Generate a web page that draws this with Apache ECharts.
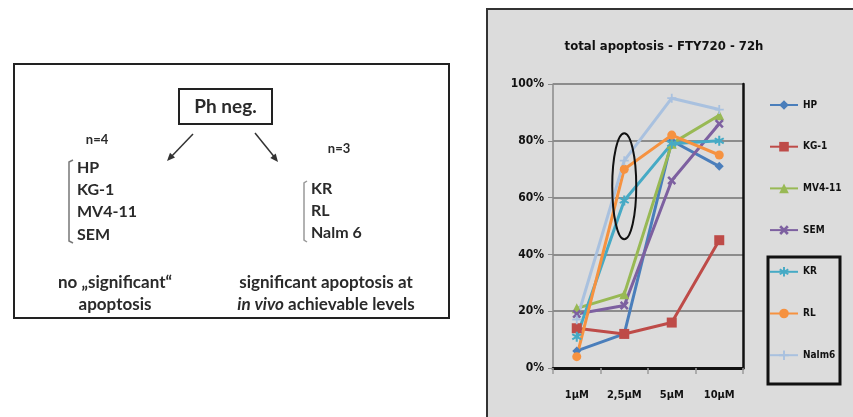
<!DOCTYPE html>
<html>
<head>
<meta charset="utf-8">
<script src="https://cdn.jsdelivr.net/npm/echarts@6.0.0/dist/echarts.min.js"></script>
<style>
  html, body { margin: 0; padding: 0; background: #fff; }
  #main { width: 853px; height: 417px; }
</style>
</head>
<body>
<div id="main"></div>
<script>
// doses on the x axis and % total apoptosis per cell line
var doses = ['1µM', '2,5µM', '5µM', '10µM'];
var hp = [6, 12, 80, 71];
var kg1 = [14, 12, 16, 45];
var mv411 = [21, 26, 79, 89];
var sem = [19, 22, 66, 86];
var kr = [11, 59, 79, 80];
var rl = [4, 70, 82, 75];
var nalm6 = [17, 73, 95, 91];
var yTicks = [0, 20, 40, 60, 80, 100];

var narrow = '"Liberation Sans Narrow", "DejaVu Sans Condensed", sans-serif';
var body = 'Lato, "Open Sans", sans-serif';
var ink = '#2a2a2a';

var xMark = 'path://M2,0L5,3L8,0L10,2L7,5L10,8L8,10L5,7L2,10L0,8L3,5L0,2Z';
var star = 'path://M4,0h2v3.3l2.9,-1.7l1,1.7l-2.9,1.7l2.9,1.7l-1,1.7l-2.9,-1.7v3.3h-2v-3.3l-2.9,1.7l-1,-1.7l2.9,-1.7l-2.9,-1.7l1,-1.7l2.9,1.7z';
var plus = 'path://M4,0h2v4h4v2h-4v4h-2v-4h-4v-2h4z';

function line(name, data, color, symbol, size) {
  return {
    name: name, type: 'line', data: data,
    symbol: symbol, symbolSize: size,
    lineStyle: { color: color, width: 3 },
    itemStyle: { color: color },
    emphasis: { disabled: true }
  };
}

function txt(x, y, s, font, extra) {
  var st = { text: s, font: font, fill: ink, align: 'center', verticalAlign: 'middle' };
  if (extra) for (var k in extra) st[k] = extra[k];
  return { type: 'text', x: x, y: y, z: 20, style: st };
}

var myChart = echarts.init(document.getElementById('main'));

var option = {
  animation: false,
  backgroundColor: '#fff',
  grid: { left: 553, top: 84, width: 190, height: 284, show: true, backgroundColor: '#dcdcdc', borderWidth: 0 },
  legend: {
    orient: 'vertical', left: 769, top: 100, padding: 0,
    itemWidth: 28, itemHeight: 12, itemGap: 31.7,
    textStyle: { fontFamily: narrow, fontWeight: 'bold', fontSize: 10, color: '#111' },
    data: ['HP', 'KG-1', 'MV4-11', 'SEM', 'KR', 'RL', 'Nalm6']
  },
  xAxis: [{
    type: 'category', data: doses, boundaryGap: true,
    axisLine: { lineStyle: { color: '#8a8a8a', width: 2 } },
    axisTick: { show: true, length: 6, lineStyle: { color: '#9a9a9a', width: 1.5 } },
    axisLabel: { margin: 22, fontFamily: narrow, fontWeight: 'bold', fontSize: 11, color: '#111' }
  }, {
    type: 'category', data: doses, position: 'top',
    axisLine: { lineStyle: { color: '#111', width: 3 } },
    axisTick: { show: false }, axisLabel: { show: false }
  }],
  yAxis: [{
    type: 'value', min: 0, max: 100, interval: 20,
    axisLine: { show: true, lineStyle: { color: '#8a8a8a', width: 1.5 } },
    axisTick: { show: true, length: 5, lineStyle: { color: '#8a8a8a' } },
    axisLabel: {
      margin: 9, fontFamily: narrow, fontWeight: 'bold', fontSize: 12, color: '#111',
      formatter: function (v) { return v + '%'; }
    },
    splitLine: { lineStyle: { color: '#8c8c8c', width: 2 } }
  }, {
    type: 'value', min: 0, max: 100, interval: 20, position: 'right',
    axisLine: { show: true, lineStyle: { color: '#111', width: 2.5 } },
    axisTick: { show: false }, axisLabel: { show: false }, splitLine: { show: false }
  }],
  series: [
    line('HP', hp, '#4a7ebb', 'diamond', 9),
    line('KG-1', kg1, '#be4b48', 'rect', 10),
    line('MV4-11', mv411, '#98b954', 'triangle', 10),
    line('SEM', sem, '#7d60a0', xMark, 9),
    line('KR', kr, '#46aac5', star, 10),
    line('RL', rl, '#f69240', 'circle', 9),
    line('Nalm6', nalm6, '#a9c1df', plus, 9)
  ],
  graphic: [
    // left panel
    { type: 'rect', z: 1, shape: { x: 14, y: 64, width: 435, height: 254 },
      style: { fill: '#fff', stroke: '#222', lineWidth: 2 } },
    { type: 'rect', z: 2, shape: { x: 179, y: 89, width: 93, height: 35 },
      style: { fill: '#fff', stroke: '#222', lineWidth: 2 } },
    txt(225.5, 107, 'Ph neg.', 'bold 19px ' + body),
    { type: 'line', z: 2, shape: { x1: 193, y1: 134, x2: 170, y2: 158 }, style: { stroke: '#333', lineWidth: 1.5 } },
    { type: 'polygon', z: 2, shape: { points: [[167, 161], [175, 157.6], [170, 152.8]] }, style: { fill: '#333' } },
    { type: 'line', z: 2, shape: { x1: 255, y1: 133, x2: 276, y2: 159 }, style: { stroke: '#333', lineWidth: 1.5 } },
    { type: 'polygon', z: 2, shape: { points: [[278, 162], [275.7, 153.6], [270.3, 158]] }, style: { fill: '#333' } },
    txt(97, 140, 'n=4', 'bold 13px ' + body),
    txt(339, 149, 'n=3', 'bold 13px ' + body),
    { type: 'polyline', z: 2, shape: { points: [[73, 160], [69, 162], [69, 241], [73, 243]] }, style: { stroke: '#777', lineWidth: 1.5, fill: null } },
    { type: 'polyline', z: 2, shape: { points: [[307, 181], [304, 183], [304, 240], [307, 242]] }, style: { stroke: '#999', lineWidth: 1.5, fill: null } },
    txt(77, 168, 'HP', 'bold 16px ' + body, { align: 'left' }),
    txt(77, 190, 'KG-1', 'bold 16px ' + body, { align: 'left' }),
    txt(77, 212, 'MV4-11', 'bold 16px ' + body, { align: 'left' }),
    txt(77, 235, 'SEM', 'bold 16px ' + body, { align: 'left' }),
    txt(311, 189, 'KR', 'bold 16px ' + body, { align: 'left' }),
    txt(311, 211, 'RL', 'bold 16px ' + body, { align: 'left' }),
    txt(311, 233, 'Nalm 6', 'bold 16px ' + body, { align: 'left' }),
    txt(115, 283, 'no \u201esignificant\u201c', 'bold 17px ' + body),
    txt(115, 305, 'apoptosis', 'bold 17px ' + body),
    txt(326, 283, 'significant apoptosis at', 'bold 17px ' + body),
    txt(326, 305, '{i|in vivo} achievable levels', 'bold 17px ' + body,
      { rich: { i: { font: 'italic bold 17px ' + body, fill: ink } } }),
    // right panel frame, title and legend box
    { type: 'rect', z: -10, shape: { x: 487, y: 9, width: 380, height: 420 },
      style: { fill: '#dcdcdc', stroke: '#333', lineWidth: 2 } },
    txt(664, 47, 'total apoptosis - FTY720 - 72h', 'bold 13px ' + narrow, { fill: '#111' }),
    { type: 'rect', z: 20, shape: { x: 768, y: 257, width: 72, height: 127 },
      style: { fill: null, stroke: '#111', lineWidth: 3 } }
  ]
};
myChart.setOption(option);

// black ring around the 2,5µM cluster, placed through the chart's own scales
var c = myChart.convertToPixel({ xAxisIndex: 0, yAxisIndex: 0 }, ['2,5µM', 64]);
myChart.setOption({
  graphic: [{ id: 'ring', type: 'ellipse', z: 30, shape: { cx: c[0], cy: c[1], rx: 12, ry: 53 },
    style: { fill: null, stroke: '#111', lineWidth: 2 } }]
});
</script>
</body>
</html>
